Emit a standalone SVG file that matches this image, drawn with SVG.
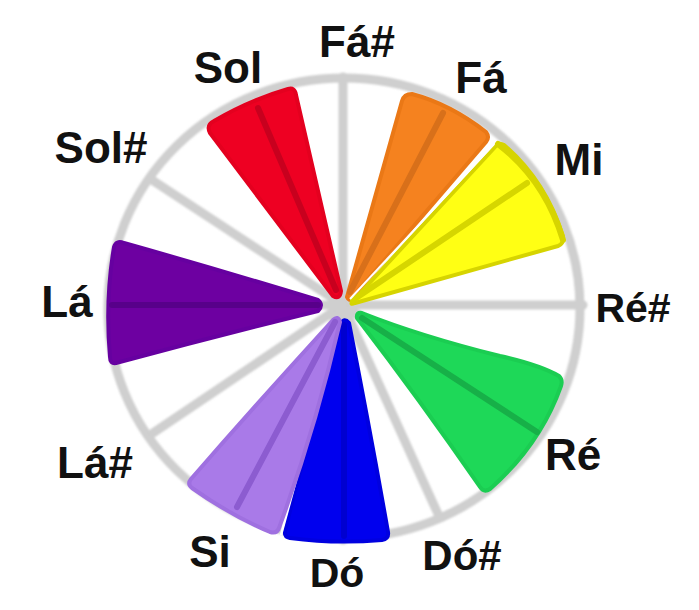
<svg xmlns="http://www.w3.org/2000/svg" width="699" height="610" viewBox="0 0 699 610">
<defs>
<style>
.lbl{font-family:"Liberation Sans",Arial,Helvetica,sans-serif;font-weight:bold;font-size:44px;fill:#111;text-anchor:middle}
.rim{fill:none;stroke:#cfcfcf;stroke-width:9}
.spoke{stroke:#cfcfcf;stroke-width:9;stroke-linecap:round}
.vein{fill:none;stroke-width:6;stroke-linecap:round}
.wedge{stroke-linejoin:round;stroke-width:4}
</style>
<filter id="soft" x="-5%" y="-5%" width="110%" height="110%"><feGaussianBlur stdDeviation="0.9"/></filter>
</defs>
<rect width="699" height="610" fill="#ffffff"/>
<g id="connectors" filter="url(#soft)">
<ellipse class="rim" cx="344" cy="308" rx="236" ry="230"/>
<line class="spoke" x1="343" y1="77" x2="343" y2="305"/>
<line class="spoke" x1="583" y1="305" x2="343" y2="305"/>
<line class="spoke" x1="152" y1="180" x2="343" y2="305"/>
<line class="spoke" x1="153" y1="433" x2="343" y2="305"/>
<line class="spoke" x1="438" y1="514" x2="343" y2="305"/>
<line class="spoke" x1="257" y1="107" x2="343" y2="305"/>
<line class="spoke" x1="443" y1="113" x2="343" y2="305"/>
<line class="spoke" x1="527" y1="183" x2="343" y2="305"/>
<line class="spoke" x1="537" y1="432" x2="343" y2="305"/>
<line class="spoke" x1="237" y1="507" x2="343" y2="305"/>
<line class="spoke" x1="343" y1="540" x2="343" y2="305"/>
<line class="spoke" x1="110" y1="305" x2="343" y2="305"/>
</g>
<g id="sol">
<path class="wedge" fill="#ee0022" stroke="#e4001f" d="M333,296 L210,133 Q206,125 214,121 Q250,100 288,89 Q295,87 296,95 L341,291 Q340,300 333,296 Z"/>
<line class="vein" stroke="#c8001e" x1="258" y1="108" x2="336" y2="290"/>
<text class="lbl" x="228" y="83">Sol</text>
</g>
<g id="fa">
<path class="wedge" fill="#f5821f" stroke="#ea7816" d="M347,297 L402,101 Q404,94 412,94 Q450,104 486,132 Q490,137 486,142 L352,298 Q349,302 347,297 Z"/>
<line class="vein" stroke="#d8701a" x1="443" y1="113" x2="350" y2="292"/>
<text class="lbl" x="481" y="93">Fá</text>
</g>
<g id="mi">
<path class="wedge" fill="#ffff14" stroke="#d6d400" d="M352,302 L496,146 Q499,142 504,145 Q545,180 563,236 Q564,244 558,246 L355,303 Q350,305 352,302 Z"/>
<path fill="none" stroke="#d6d400" stroke-width="6" stroke-linecap="round" d="M498,144 Q545,180 563,240"/>
<line class="vein" stroke="#d6d600" x1="527" y1="183" x2="353" y2="300"/>
<line stroke="#ffffff" stroke-width="2" x1="494" y1="144" x2="350" y2="299"/>
<text class="lbl" x="579" y="175">Mi</text>
</g>
<g id="resharp">
<text class="lbl" x="633" y="322" style="font-size:41px">Ré#</text>
</g>
<g id="re">
<path class="wedge" fill="#1ed858" stroke="#1bcd52" d="M357,318 Q356,312 362,313 Q420,336 500,356 Q540,365 559,376 Q563,380 561,386 Q540,445 490,489 Q484,493 480,487 Q420,400 357,318 Z"/>
<line class="vein" stroke="#17b048" x1="537" y1="432" x2="362" y2="318"/>
<text class="lbl" x="573" y="470">Ré</text>
</g>
<g id="dosharp">
<text class="lbl" x="462" y="570" style="font-size:42px">Dó#</text>
</g>
<g id="do">
<path class="wedge" fill="#0000ee" stroke="#0000e0" d="M341,324 Q344,317 349,323 Q370,430 388,532 Q389,539 382,540 Q335,544 290,538 Q284,537 285,531 Q310,430 341,324 Z"/>
<line class="vein" stroke="#0000d0" x1="344" y1="325" x2="344" y2="536"/>
<line stroke="#ffffff" stroke-width="2.5" x1="281" y1="535" x2="339" y2="322"/>
<text class="lbl" x="337" y="587" style="font-size:41px">Dó</text>
</g>
<g id="si">
<path class="wedge" fill="#a97ae8" stroke="#9f70e0" d="M333,320 Q338,315 340,322 Q315,430 279,528 Q277,534 270,532 Q230,515 192,488 Q187,484 191,479 Q260,400 333,320 Z"/>
<line class="vein" stroke="#8c5cd0" x1="237" y1="507" x2="335" y2="322"/>
<text class="lbl" x="210" y="567">Si</text>
</g>
<g id="lasharp">
<text class="lbl" x="95" y="478">Lá#</text>
</g>
<g id="la">
<path class="wedge" fill="#6d00a1" stroke="#6600a0" d="M318,300 Q324,305 318,311 Q220,335 116,363 Q110,364 110,357 Q105,300 114,247 Q116,240 124,243 Q220,270 318,300 Z"/>
<line class="vein" stroke="#58008a" x1="112" y1="305" x2="318" y2="305"/>
<text class="lbl" x="67" y="317">Lá</text>
</g>
<g id="solsharp">
<text class="lbl" x="101" y="163">Sol#</text>
</g>
<g id="fasharp">
<text class="lbl" x="357" y="57">Fá#</text>
</g>
</svg>
